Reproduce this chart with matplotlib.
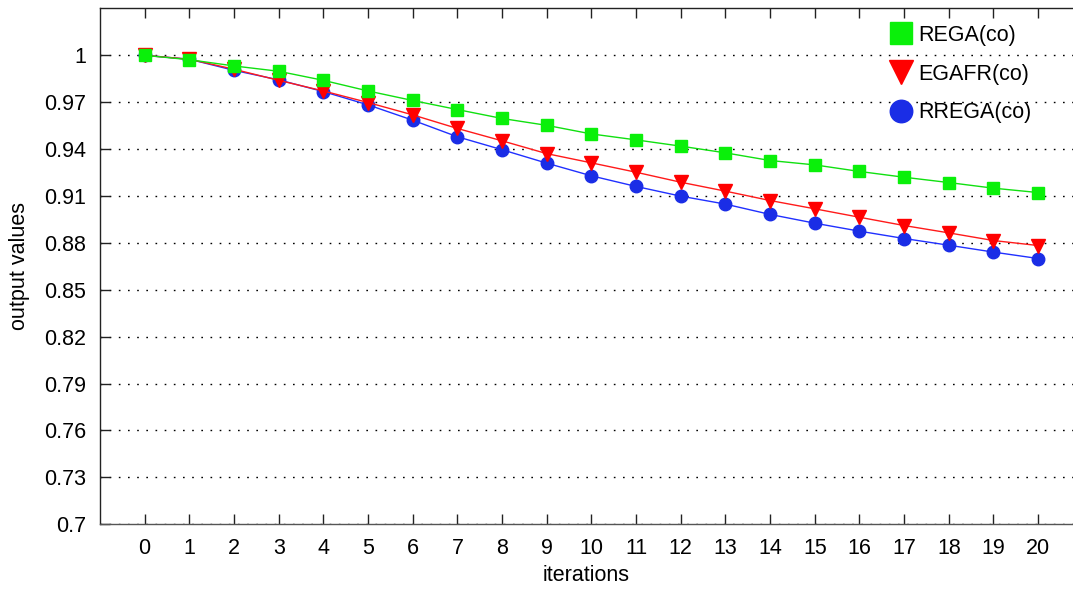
import matplotlib
matplotlib.use("Agg")
import matplotlib.pyplot as plt
import numpy as np

plt.rcParams['font.family'] = ['Liberation Sans', 'DejaVu Sans']

iterations = list(range(21))
rega = [1.0, 0.9972, 0.9932, 0.9898, 0.9840, 0.9772, 0.9711, 0.9653, 0.9596, 0.9552,
        0.9497, 0.9459, 0.9419, 0.9376, 0.9327, 0.9299, 0.9257, 0.9220, 0.9186, 0.9150, 0.9122]
egafr = [1.0, 0.9975, 0.9911, 0.9840, 0.9772, 0.9698, 0.9619, 0.9532, 0.9453, 0.9371,
         0.9312, 0.9252, 0.9188, 0.9131, 0.9071, 0.9018, 0.8964, 0.8911, 0.8864, 0.8815, 0.8783]
rrega = [1.0, 0.9975, 0.9904, 0.9843, 0.9768, 0.9683, 0.9585, 0.9479, 0.9396, 0.9310,
         0.9229, 0.9161, 0.9099, 0.9048, 0.8982, 0.8926, 0.8875, 0.8828, 0.8785, 0.8741, 0.8700]
yticks = [0.7, 0.73, 0.76, 0.79, 0.82, 0.85, 0.88, 0.91, 0.94, 0.97, 1.0]
ytick_labels = ['0.7', '0.73', '0.76', '0.79', '0.82', '0.85', '0.88', '0.91', '0.94', '0.97', '1']
xticks = list(range(21))

FS = 15.5

fig = plt.figure(figsize=(10.73, 5.89), dpi=100)
ax = fig.add_axes([0.0932, 0.110, 0.9068, 0.877])

l3, = ax.plot(iterations, rrega, color='#2030ff', lw=1.0, marker='o', markersize=9,
              markerfacecolor='#1a2de6', markeredgecolor='#1a2de6', zorder=3, label='RREGA(co)')
l2, = ax.plot(iterations, egafr, color='#ff1a1a', lw=1.0, marker='v', markersize=9.5,
              markerfacecolor='#ff0000', markeredgecolor='#ff0000', zorder=4, label='EGAFR(co)')
l1, = ax.plot(iterations, rega, color='#10e010', lw=1.0, marker='s', markersize=8.5,
              markerfacecolor='#0af00a', markeredgecolor='#0af00a', zorder=5, label='REGA(co)')

ax.set_xlim(-1, 20.78)
ax.set_ylim(0.7, 1.0305)
ax.set_xticks(xticks)
ax.set_xticklabels([str(v) for v in xticks])
ax.set_yticks(yticks)
ax.set_yticklabels(ytick_labels)

for y in yticks:
    ax.axhline(y, color='black', lw=1.0, ls=(0, (1.2, 5.4)), zorder=1)

ax.spines['right'].set_visible(False)
for s in ['left', 'top', 'bottom']:
    ax.spines[s].set_color('#222222')
    ax.spines[s].set_linewidth(1.0)
ax.spines['bottom'].set_color('#555555')

ax.tick_params(axis='x', direction='in', length=7, width=1, top=True, bottom=True,
               labelsize=FS, pad=10, colors='#222222', labelcolor='black')
ax.tick_params(axis='y', direction='in', length=7, width=1, left=True, right=False,
               labelsize=FS, pad=10, colors='#222222', labelcolor='black')

ax.set_xlabel('iterations', fontsize=FS, labelpad=4)
ax.set_ylabel('output values', fontsize=FS, labelpad=10)

leg = ax.legend(handles=[l1, l2, l3], loc='upper right', bbox_to_anchor=(0.977, 1.004),
                frameon=False, fontsize=FS, markerscale=1.8, handlelength=0.0,
                handletextpad=0.8, labelspacing=0.82)
for h in leg.legend_handles:
    h.set_linestyle('None')

fig.savefig('out.png', dpi=100)
